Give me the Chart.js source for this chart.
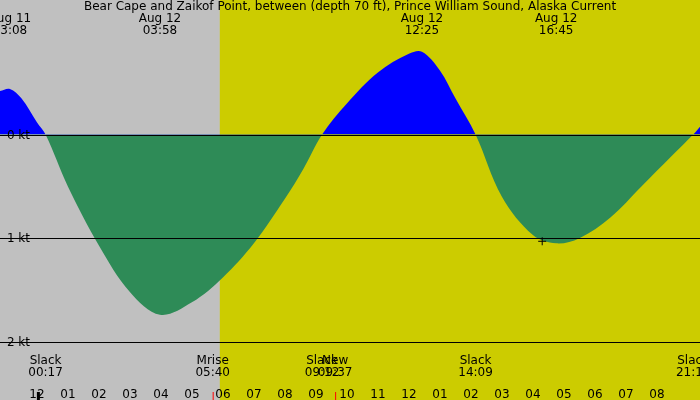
<!DOCTYPE html>
<html><head><meta charset="utf-8">
<script src="https://cdn.jsdelivr.net/npm/chart.js@4/dist/chart.umd.min.js"></script>
<style>body{margin:0}#wrap{width:700px;height:400px}</style>
</head><body><div id="wrap"><canvas id="c"></canvas></div>
<script>
// hours relative to Aug 12 00:00, current in knots
const horas = [-1.2, -0.87, -0.5, 0, 0.28, 1, 2, 3, 3.97, 5, 6, 7, 8, 8.6, 9.2, 10, 11, 12, 12.42, 13, 13.5, 14.15, 15, 16, 16.75, 17.5, 18.5, 19.5, 20.5, 21.17, 21.4];
const corriente = [0.42, 0.44, 0.35, 0.12, 0, -0.5, -1.07, -1.52, -1.74, -1.62, -1.38, -1.05, -0.62, -0.33, 0, 0.3, 0.6, 0.78, 0.8, 0.62, 0.35, 0, -0.6, -0.97, -1.05, -1.0, -0.8, -0.5, -0.2, 0, 0.08];
const nivelesY = [0, -1, -2];
const etiquetasY = ['0 kt', '-1 kt', '-2 kt'];
const arriba = [[-0.87, 'Aug 11', '23:08'], [3.97, 'Aug 12', '03:58'], [12.42, 'Aug 12', '12:25'], [16.75, 'Aug 12', '16:45']];
const abajo = [[0.28, 'Slack', '00:17'], [5.67, 'Mrise', '05:40'], [9.2, 'Slack', '09:12'], [9.62, 'New', '09:37'], [14.15, 'Slack', '14:09'], [21.17, 'Slack', '21:10']];
const amanecer = 5.9;
const titulo = 'Bear Cape and Zaikof Point, between (depth 70 ft), Prince William Sound, Alaska Current';

const fuente = '12px "DejaVu Sans", sans-serif';
const fondo = {
  id: 'fondo',
  beforeDraw(chart) {
    const ctx = chart.ctx, x = chart.scales.x;
    ctx.save();
    ctx.fillStyle = '#c0c0c0'; ctx.fillRect(0, 0, chart.width, chart.height);
    const xa = x.getPixelForValue(amanecer);
    ctx.fillStyle = '#cccc00'; ctx.fillRect(xa, 0, chart.width - xa, chart.height);
    ctx.restore();
  },
  afterDatasetsDraw(chart) {
    const ctx = chart.ctx, x = chart.scales.x, y = chart.scales.y;
    ctx.save();
    ctx.strokeStyle = '#000'; ctx.lineWidth = 1;
    ctx.fillStyle = '#000'; ctx.font = fuente; ctx.textBaseline = 'middle';
    nivelesY.forEach((v, i) => {
      const py = Math.round(y.getPixelForValue(v)) + 0.5;
      ctx.beginPath(); ctx.moveTo(0, py); ctx.lineTo(chart.width, py); ctx.stroke();
      ctx.textAlign = 'right'; ctx.fillText(etiquetasY[i], 30, py);
    });
    ctx.textAlign = 'center';
    ctx.fillText(titulo, 350, 7);
    arriba.forEach(a => {
      const px = x.getPixelForValue(a[0]);
      ctx.fillText(a[1], px, 19); ctx.fillText(a[2], px, 31);
    });
    abajo.forEach(a => {
      const px = x.getPixelForValue(a[0]);
      ctx.fillText(a[1], px, 361); ctx.fillText(a[2], px, 373);
    });
    const mx = x.getPixelForValue(16.3), my = y.getPixelForValue(-1.03);
    ctx.beginPath(); ctx.moveTo(mx - 4, my); ctx.lineTo(mx + 4, my); ctx.moveTo(mx, my - 4); ctx.lineTo(mx, my + 4); ctx.stroke();
    ctx.fillStyle = '#ff0000';
    [5.67, 9.62].forEach(h => ctx.fillRect(x.getPixelForValue(h), 392, 1, 8));
    ctx.fillStyle = '#000';
    ctx.fillRect(x.getPixelForValue(0), 392, 3, 8);
    ctx.restore();
  }
};

new Chart(document.getElementById('c'), {
  type: 'line',
  data: { datasets: [{
    data: horas.map((h, i) => ({ x: h, y: corriente[i] })),
    fill: { target: 'origin', above: '#0000ff', below: '#2e8b57' },
    borderWidth: 0, borderColor: 'transparent', pointRadius: 0, tension: 0.35
  }] },
  options: {
    responsive: true, maintainAspectRatio: false, animation: false,
    layout: { padding: 0 },
    plugins: { legend: { display: false }, tooltip: { enabled: false } },
    scales: {
      x: {
        type: 'linear', min: -1.19, max: 21.39,
        afterFit(s) { s.height = 50; s.paddingLeft = 0; s.paddingRight = 0; },
        grid: { display: false }, border: { display: false },
        ticks: {
          stepSize: 1, padding: 30, color: '#000', font: { family: 'DejaVu Sans', size: 12 }, maxRotation: 0, autoSkip: false,
          callback(v) { if (!Number.isInteger(v)) return ''; const h = ((v % 12) + 12) % 12; return String(h === 0 ? 12 : h).padStart(2, '0'); }
        }
      },
      y: { display: false, min: -2.08, max: 1.3 }
    }
  },
  plugins: [fondo]
});
</script></body></html>
